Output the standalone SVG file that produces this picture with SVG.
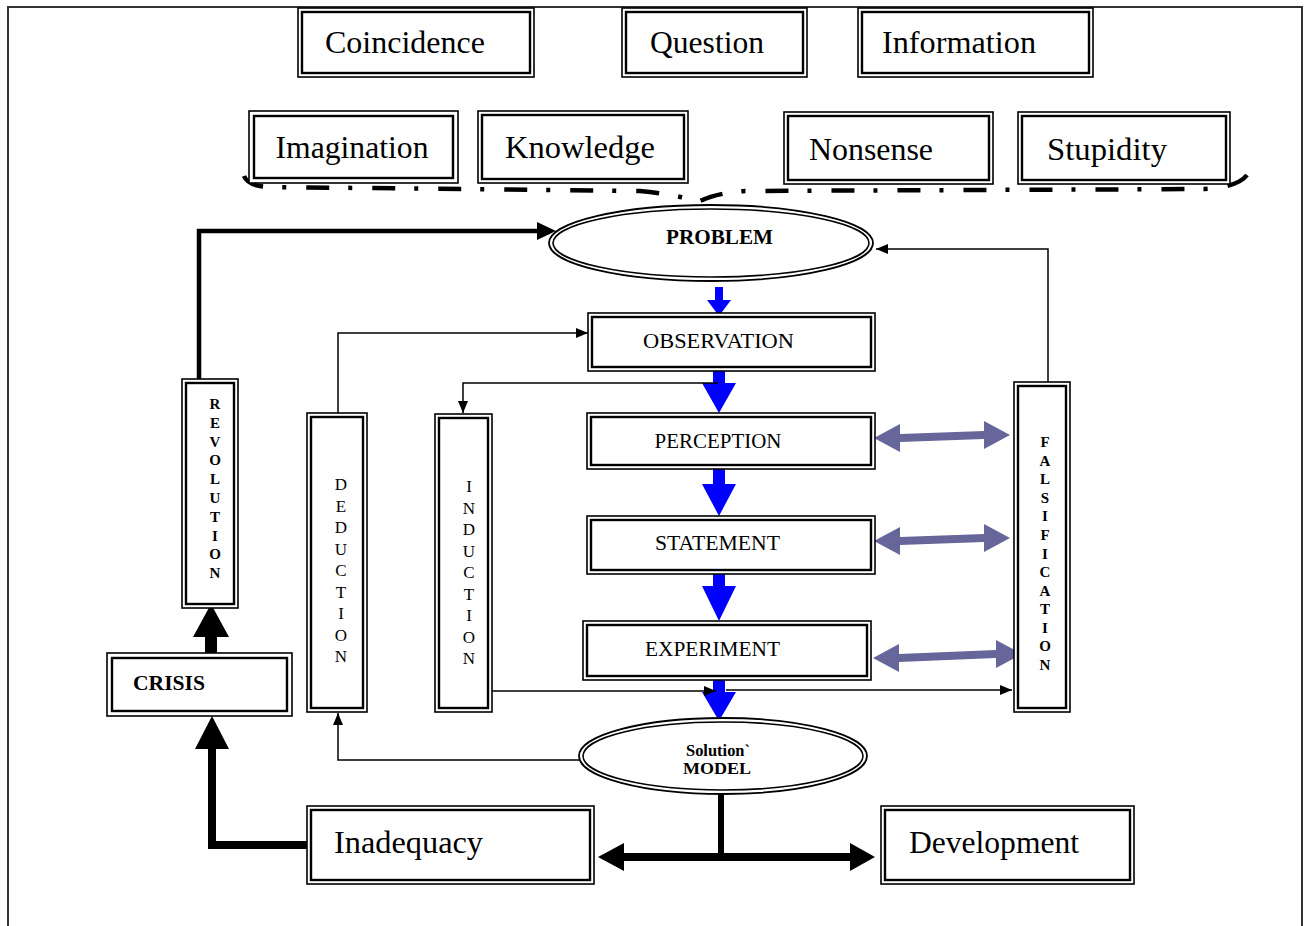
<svg xmlns="http://www.w3.org/2000/svg" width="1305" height="926" viewBox="0 0 1305 926">
<style>
  .o{fill:#fff;stroke:#000;stroke-width:1.6}
  .i{fill:none;stroke:#000;stroke-width:2.4}
  .eo{fill:#fff;stroke:#000;stroke-width:1.8}
  .ei{fill:none;stroke:#000;stroke-width:1.6}
  .big{font-family:"Liberation Serif","Times New Roman",serif;font-size:32px;fill:#000}
  .mid{font-family:"Liberation Serif","Times New Roman",serif;font-size:21px;fill:#000;text-anchor:middle}
  .bld{font-family:"Liberation Serif","Times New Roman",serif;font-weight:bold;fill:#000}
  .vb{font-family:"Liberation Serif","Times New Roman",serif;font-weight:bold;font-size:15px;fill:#000;text-anchor:middle}
  .vn{font-family:"Liberation Serif","Times New Roman",serif;font-size:17px;fill:#000;text-anchor:middle}
  .thin{fill:none;stroke:#000;stroke-width:1.5}
  .blue{fill:#0000ff}
  .purple{fill:#66669a}
  .blk{fill:#000}
</style>
<defs>
  <marker id="ah" viewBox="0 0 12 10" refX="12" refY="5" markerWidth="12" markerHeight="10" orient="auto" markerUnits="userSpaceOnUse">
    <path d="M0,0 L12,5 L0,10 z" fill="#000"/>
  </marker>
</defs>
<rect width="1305" height="926" fill="#fff"/>
<!-- frame -->
<path d="M8,926 V7 H1302 V926" fill="none" stroke="#333" stroke-width="2"/>

<!-- dash-dot brace -->
<path d="M244,176 Q248,186 268,187 L640,191 Q680,195 698,202 Q715,193 745,191 L1205,189 Q1238,187 1247,175" fill="none" stroke="#000" stroke-width="4.5" stroke-dasharray="23 19 4 20"/>

<g id="coincidence"><rect class="o" x="298" y="8" width="236" height="69"/><rect class="i" x="302" y="12" width="228" height="61"/><text class="big" x="405" y="53" text-anchor="middle" textLength="160" lengthAdjust="spacingAndGlyphs">Coincidence</text></g>
<g id="question"><rect class="o" x="622" y="8" width="185" height="69"/><rect class="i" x="626" y="12" width="177" height="61"/><text class="big" x="707" y="53" text-anchor="middle" textLength="114" lengthAdjust="spacingAndGlyphs">Question</text></g>
<g id="information"><rect class="o" x="858" y="8" width="235" height="69"/><rect class="i" x="862" y="12" width="227" height="61"/><text class="big" x="959" y="53" text-anchor="middle" textLength="154" lengthAdjust="spacingAndGlyphs">Information</text></g>
<g id="imagination"><rect class="o" x="249" y="111" width="209" height="72" stroke-width="2.6"/><rect class="i" x="254" y="116" width="199" height="62" stroke-width="1.6"/><text class="big" x="352" y="158" text-anchor="middle" textLength="153" lengthAdjust="spacingAndGlyphs">Imagination</text></g>
<g id="knowledge"><rect class="o" x="478" y="111" width="210" height="72"/><rect class="i" x="482" y="115" width="202" height="64"/><text class="big" x="580" y="158" text-anchor="middle" textLength="150" lengthAdjust="spacingAndGlyphs">Knowledge</text></g>
<g id="nonsense"><rect class="o" x="784" y="112" width="209" height="72"/><rect class="i" x="788" y="116" width="201" height="64" stroke-width="3"/><text class="big" x="871" y="160" text-anchor="middle" textLength="124" lengthAdjust="spacingAndGlyphs">Nonsense</text></g>
<g id="stupidity"><rect class="o" x="1018" y="112" width="212" height="72"/><rect class="i" x="1022" y="116" width="204" height="64" stroke-width="3"/><text class="big" x="1107" y="160" text-anchor="middle" textLength="120" lengthAdjust="spacingAndGlyphs">Stupidity</text></g>

<g id="connectors">
  <!-- blue flow arrows -->
  <polygon class="blue" points="715,287 723,287 723,300 731,300 719,316 707,300 715,300"/>
  <polygon class="blue" points="713,370 725,370 725,383 736,383 719,413 702,383 713,383"/>
  <polygon class="blue" points="713,469 725,469 725,484 736,484 719,516 702,484 713,484"/>
  <polygon class="blue" points="713,573 725,573 725,586 736,586 719,621 702,586 713,586"/>
  <polygon class="blue" points="713,679 725,679 725,692 736,692 719,721 702,692 713,692"/>
  <!-- purple double arrows -->
  <polygon class="purple" points="874,438 900,424 900,434 984,431 984,421 1010,435 984,449 984,439 900,442 900,452"/>
  <polygon class="purple" points="874,541 900,527 900,537 984,534 984,524 1010,538 984,552 984,542 900,545 900,555"/>
  <polygon class="purple" points="873,658 899,644 899,654 996,650 996,640 1022,654 996,668 996,658 899,662 899,672"/>
  <!-- thin black arrows -->
  <path class="thin" d="M338,413 V333 H588" marker-end="url(#ah)"/>
  <path class="thin" d="M718,383 H463 V413" marker-end="url(#ah)"/>
  <path class="thin" d="M492,691 H716" marker-end="url(#ah)"/>
  <path class="thin" d="M726,690 H1012" marker-end="url(#ah)"/>
  <path class="thin" d="M579,760 H338 V713" marker-end="url(#ah)"/>
  <path class="thin" d="M1048,383 V249 H876" stroke="#333" marker-end="url(#ah)"/>
  <!-- thick black arrows -->
  <path d="M199,380 V231 H540" fill="none" stroke="#000" stroke-width="4.5"/>
  <polygon class="blk" points="537,222 556,231 537,240"/>
  <polygon class="blk" points="205,654 217,654 217,637 229,637 211,604 193,637 205,637"/>
  <path d="M307,845 H212 V745" fill="none" stroke="#000" stroke-width="8"/>
  <polygon class="blk" points="195,749 229,749 212,716"/>
  <path d="M721,794 V857" fill="none" stroke="#000" stroke-width="6"/>
  <path d="M620,857 H852" fill="none" stroke="#000" stroke-width="8"/>
  <polygon class="blk" points="624,843 598,857 624,871"/>
  <polygon class="blk" points="850,843 875,857 850,871"/>
</g>

<g id="problem"><ellipse class="eo" cx="711" cy="243" rx="162" ry="38"/><ellipse class="ei" cx="711" cy="243" rx="158" ry="34"/><text class="bld" x="719.5" y="244" font-size="22" text-anchor="middle" textLength="107" lengthAdjust="spacingAndGlyphs">PROBLEM</text></g>
<g id="observation"><rect class="o" x="588" y="313" width="287" height="58" stroke-width="2.4"/><rect class="i" x="592" y="317" width="279" height="50" stroke-width="1.6"/><text class="mid" x="718.5" y="348" textLength="151" lengthAdjust="spacingAndGlyphs">OBSERVATION</text></g>
<g id="perception"><rect class="o" x="587" y="413" width="288" height="56"/><rect class="i" x="591" y="417" width="280" height="48" stroke-width="3"/><text class="mid" x="718" y="448" textLength="127" lengthAdjust="spacingAndGlyphs">PERCEPTION</text></g>
<g id="statement"><rect class="o" x="587" y="516" width="288" height="58"/><rect class="i" x="591" y="520" width="280" height="50"/><text class="mid" x="717.5" y="550" textLength="125" lengthAdjust="spacingAndGlyphs">STATEMENT</text></g>
<g id="experiment"><rect class="o" x="583" y="621" width="288" height="59"/><rect class="i" x="587" y="625" width="280" height="51"/><text class="mid" x="712.5" y="656" textLength="135" lengthAdjust="spacingAndGlyphs">EXPERIMENT</text></g>

<g id="falsification"><rect class="o" x="1014" y="382" width="56" height="330"/><rect class="i" x="1018" y="386" width="48" height="322" stroke-width="3"/>
<text class="vb"><tspan x="1045" y="447">F</tspan><tspan x="1045" y="465.6">A</tspan><tspan x="1045" y="484.2">L</tspan><tspan x="1045" y="502.8">S</tspan><tspan x="1045" y="521.3">I</tspan><tspan x="1045" y="539.9">F</tspan><tspan x="1045" y="558.5">I</tspan><tspan x="1045" y="577.1">C</tspan><tspan x="1045" y="595.7">A</tspan><tspan x="1045" y="614.3">T</tspan><tspan x="1045" y="632.8">I</tspan><tspan x="1045" y="651.4">O</tspan><tspan x="1045" y="670">N</tspan></text></g>

<g id="induction"><rect class="o" x="435" y="414" width="57" height="298"/><rect class="i" x="439" y="418" width="49" height="290"/>
<text class="vn"><tspan x="469" y="492">I</tspan><tspan x="469" y="513.5">N</tspan><tspan x="469" y="535">D</tspan><tspan x="469" y="556.5">U</tspan><tspan x="469" y="578">C</tspan><tspan x="469" y="599.5">T</tspan><tspan x="469" y="621">I</tspan><tspan x="469" y="642.5">O</tspan><tspan x="469" y="664">N</tspan></text></g>

<g id="deduction"><rect class="o" x="307" y="413" width="60" height="299"/><rect class="i" x="311" y="417" width="52" height="291" stroke-width="3"/>
<text class="vn"><tspan x="341" y="490">D</tspan><tspan x="341" y="511.5">E</tspan><tspan x="341" y="533">D</tspan><tspan x="341" y="554.5">U</tspan><tspan x="341" y="576">C</tspan><tspan x="341" y="597.5">T</tspan><tspan x="341" y="619">I</tspan><tspan x="341" y="640.5">O</tspan><tspan x="341" y="662">N</tspan></text></g>

<g id="revolution"><rect class="o" x="182" y="379" width="56" height="229"/><rect class="i" x="186" y="383" width="48" height="221" stroke-width="3"/>
<text class="vb"><tspan x="215" y="409">R</tspan><tspan x="215" y="427.8">E</tspan><tspan x="215" y="446.6">V</tspan><tspan x="215" y="465.4">O</tspan><tspan x="215" y="484.2">L</tspan><tspan x="215" y="503">U</tspan><tspan x="215" y="521.8">T</tspan><tspan x="215" y="540.6">I</tspan><tspan x="215" y="559.4">O</tspan><tspan x="215" y="578.2">N</tspan></text></g>

<g id="crisis"><rect class="o" x="107" y="653" width="185" height="63" stroke-width="3"/><rect class="i" x="112" y="658" width="175" height="53" stroke-width="1.6"/><text class="bld" x="133" y="690" font-size="21" textLength="72" lengthAdjust="spacingAndGlyphs">CRISIS</text></g>

<g id="model"><ellipse class="eo" cx="723" cy="756" rx="144" ry="38"/><ellipse class="ei" cx="723" cy="756" rx="140" ry="34"/><text class="bld" x="718" y="756" font-size="16" text-anchor="middle" textLength="64" lengthAdjust="spacingAndGlyphs">Solution`</text><text class="bld" x="717" y="774" font-size="16" text-anchor="middle" textLength="68" lengthAdjust="spacingAndGlyphs">MODEL</text></g>

<g id="inadequacy"><rect class="o" x="307" y="806" width="287" height="78" stroke-width="2.4"/><rect class="i" x="311" y="810" width="279" height="70" stroke-width="1.6"/><text class="big" x="334" y="853" textLength="149" lengthAdjust="spacingAndGlyphs">Inadequacy</text></g>
<g id="development"><rect class="o" x="881" y="806" width="253" height="78" stroke-width="2.4"/><rect class="i" x="885" y="810" width="245" height="70" stroke-width="1.6"/><text class="big" x="909" y="853" textLength="170" lengthAdjust="spacingAndGlyphs">Development</text></g>
</svg>
